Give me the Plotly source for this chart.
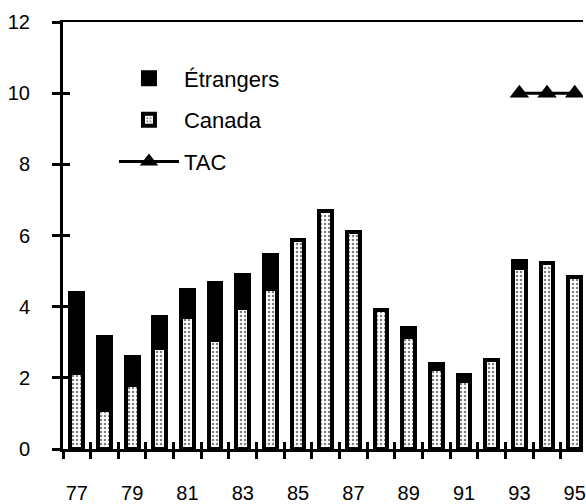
import plotly.graph_objects as go

# Catches by year (thousand t)
years = list(range(77, 96))
canada = [2.15, 1.1, 1.8, 2.85, 3.7, 3.05, 3.95, 4.5, 5.87, 6.68, 6.1, 3.92,
          3.15, 2.25, 1.9, 2.5, 5.1, 5.22, 4.83]
etrangers = [2.23, 2.05, 0.79, 0.86, 0.76, 1.61, 0.93, 0.95, 0, 0, 0, 0,
             0.24, 0.15, 0.17, 0, 0.17, 0, 0]

# Total allowable catch
tac_years = [93, 94, 95]
tac = [10, 10, 10]

# Axis ticks and labels
y_ticks = [0, 2, 4, 6, 8, 10, 12]
x_label_years = [77, 79, 81, 83, 85, 87, 89, 91, 93, 95]
x_labels = [str(v) for v in x_label_years]
x_bounds = [y - 0.5 for y in years] + [years[-1] + 0.5]

FONT = "Liberation Sans, Arial, sans-serif"
BAR_W = 0.46
EDGE = 4

fig = go.Figure()

fig.add_trace(go.Bar(
    x=years, y=canada, name="Canada", width=BAR_W,
    marker=dict(color="white",
                line=dict(color="black", width=EDGE),
                pattern=dict(shape=".", fgcolor="black", bgcolor="white",
                             size=4, solidity=0.3)),
    legendgroup="c", legendrank=2,
))
fig.add_trace(go.Bar(
    x=years, y=etrangers, name="Étrangers", width=BAR_W,
    marker=dict(color="black", line=dict(color="black", width=EDGE)),
    legendgroup="e", legendrank=1,
))
fig.add_trace(go.Scatter(
    x=tac_years, y=tac, name="TAC", mode="lines+markers",
    line=dict(color="black", width=3),
    marker=dict(symbol="triangle-up", size=17, color="black"),
    legendgroup="t", legendrank=3,
))

# Empty traces so the helper axes (cross ticks, top frame) get drawn
for xa, ya in [("x2", "y"), ("x3", "y"), ("x4", "y"), ("x", "y2")]:
    fig.add_trace(go.Scatter(x=[None], y=[None], xaxis=xa, yaxis=ya,
                             mode="markers", showlegend=False,
                             hoverinfo="skip"))

x_range = [76.5, 95.3]
y_range = [0, 12]

fig.update_layout(
    width=586, height=504,
    margin=dict(l=63, r=0, t=22, b=50),
    paper_bgcolor="white", plot_bgcolor="white",
    barmode="stack",
    font=dict(family=FONT, size=20, color="black"),
    showlegend=True,
    legend=dict(x=0.098, y=0.917, xanchor="left", yanchor="top",
                bgcolor="rgba(0,0,0,0)", traceorder="grouped",
                tracegroupgap=10, itemwidth=60,
                font=dict(family=FONT, size=22, color="black")),
    xaxis=dict(range=x_range, showgrid=False, zeroline=False,
               showline=True, linecolor="black", linewidth=3,
               tickmode="array", tickvals=x_label_years, ticktext=x_labels,
               ticks="", ticklabelstandoff=24, ticklabeloverflow="allow",
               tickfont=dict(family=FONT, size=20, color="black")),
    xaxis2=dict(range=x_range, overlaying="x", anchor="y", side="bottom",
                showgrid=False, zeroline=False, showline=False,
                tickmode="array", tickvals=x_bounds, ticks="outside",
                ticklen=9, tickwidth=3, tickcolor="black",
                showticklabels=False),
    xaxis3=dict(range=x_range, overlaying="x", anchor="y", side="bottom",
                showgrid=False, zeroline=False, showline=False,
                tickmode="array", tickvals=x_bounds, ticks="inside",
                ticklen=7, tickwidth=3, tickcolor="black",
                showticklabels=False),
    xaxis4=dict(range=x_range, overlaying="x", anchor="y", side="top",
                showgrid=False, zeroline=False, showline=True,
                linecolor="black", linewidth=2, ticks="",
                showticklabels=False),
    yaxis=dict(range=y_range, showgrid=False, zeroline=False,
               showline=True, linecolor="black", linewidth=3,
               tickmode="array", tickvals=y_ticks, ticks="outside",
               ticklen=8, tickwidth=3, tickcolor="black",
               ticklabelstandoff=18,
               tickfont=dict(family=FONT, size=20, color="black")),
    yaxis2=dict(range=y_range, overlaying="y", anchor="x", side="left",
                showgrid=False, zeroline=False, showline=False,
                tickmode="array", tickvals=y_ticks, ticks="inside",
                ticklen=7, tickwidth=3, tickcolor="black",
                showticklabels=False),
)

fig.write_html("out.html")
